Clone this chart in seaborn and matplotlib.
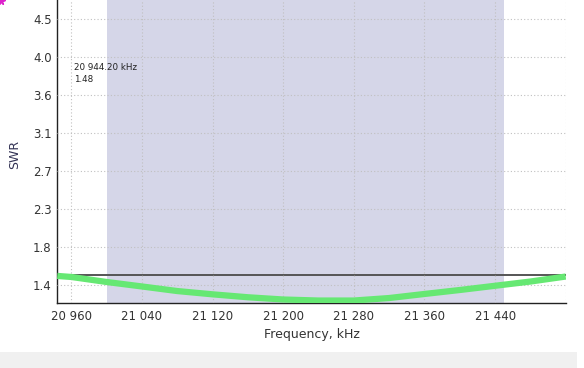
import numpy as np
import pandas as pd
import seaborn as sns
import matplotlib
matplotlib.use("Agg")
import matplotlib.pyplot as plt
from matplotlib.ticker import FixedLocator, MultipleLocator, AutoMinorLocator, FuncFormatter
from matplotlib.patches import Rectangle
from matplotlib.lines import Line2D

# ---- data ----
freq_khz = [20944.2, 20960, 21000, 21040, 21080, 21120, 21160, 21200, 21240,
            21280, 21320, 21360, 21400, 21440, 21480, 21520]
swr = [1.485, 1.473, 1.415, 1.363, 1.310, 1.272, 1.238, 1.212, 1.200,
       1.200, 1.229, 1.276, 1.322, 1.371, 1.420, 1.478]
band_start_khz = 21000
band_end_khz = 21450
swr_reference = 1.5
y_ticks = [1.38, 1.82, 2.26, 2.70, 3.14, 3.58, 4.02, 4.46]
x_ticks = [20960, 21040, 21120, 21200, 21280, 21360, 21440, 21520]
cursor_freq_label = "20 944.20 kHz"
cursor_swr_label = "1.48"

df = pd.DataFrame({"Frequency, kHz": freq_khz, "SWR": swr})

sns.set_style("white")
plt.rcParams["font.family"] = ["DejaVu Sans"]

fig = plt.figure(figsize=(5.84, 3.68), dpi=100)
W, H = 584, 368
left, right, bottom, top = 57.3, 565.7, 302.7, 0.0
ax = fig.add_axes([left / W, (H - bottom) / H, (right - left) / W, (bottom - top) / H])

ax.axvspan(band_start_khz, band_end_khz, color="#d5d6e8", lw=0, zorder=0)
ax.axhline(swr_reference, color="#555555", lw=1.4, zorder=2)
sns.lineplot(data=df, x="Frequency, kHz", y="SWR", ax=ax, color="#66e873",
             lw=4.5, zorder=3, solid_capstyle="butt")

ax.set_xlim(20944.2, 21520)
ax.set_ylim(1.175, 4.68)

ax.xaxis.set_major_locator(FixedLocator(x_ticks))
ax.xaxis.set_minor_locator(MultipleLocator(20))
ax.yaxis.set_major_locator(FixedLocator(y_ticks))
ax.yaxis.set_minor_locator(AutoMinorLocator(3))

def xfmt(v, pos):
    if v >= 21500:
        return ""
    s = f"{int(round(v)):,}".replace(",", " ")
    return s

ax.xaxis.set_major_formatter(FuncFormatter(xfmt))
ax.yaxis.set_major_formatter(FuncFormatter(lambda v, p: f"{v:.1f}"))

ax.grid(True, which="major", color="#c0c0c0", linestyle=(0, (1, 2)), lw=0.8)
ax.set_axisbelow(False)
for gl in ax.get_xgridlines() + ax.get_ygridlines():
    gl.set_zorder(1)

ax.tick_params(axis="both", which="major", direction="in", length=5, width=1,
               color="#222222", labelsize=8.5, labelcolor="#333333", pad=4)
ax.tick_params(axis="both", which="minor", direction="in", length=2.5, width=0.8,
               color="#222222")
ax.tick_params(axis="x", which="major", pad=5)

for s in ["top", "right"]:
    ax.spines[s].set_visible(False)
for s in ["left", "bottom"]:
    ax.spines[s].set_color("#222222")
    ax.spines[s].set_linewidth(1.0)

ax.set_xlabel("Frequency, kHz", fontsize=9, color="#333333")
ax.set_ylabel("SWR", fontsize=9, color="#333355")
ax.xaxis.set_label_coords(0.5, -0.083)
ax.yaxis.set_label_coords(-0.072, 0.49)

ax.text((74 - left) / (right - left), (bottom - 67.7) / bottom, cursor_freq_label,
        transform=ax.transAxes, fontsize=6.3, color="#222222", va="center", ha="left")
ax.text((74 - left) / (right - left), (bottom - 80) / bottom, cursor_swr_label,
        transform=ax.transAxes, fontsize=6.3, color="#222222", va="center", ha="left")

# bottom light strip
fig.patches.append(Rectangle((0, 0), 577 / W, 16 / H, transform=fig.transFigure,
                             facecolor="#f0f0f0", edgecolor="none", zorder=0))
# tiny magenta marker cropped at top-left corner
fig.add_artist(Line2D([0.5 / W], [1 - 0.5 / H], marker="*", markersize=5.5,
                      color="#dd22cc", transform=fig.transFigure, clip_on=False))

fig.savefig("out.png", dpi=100)
